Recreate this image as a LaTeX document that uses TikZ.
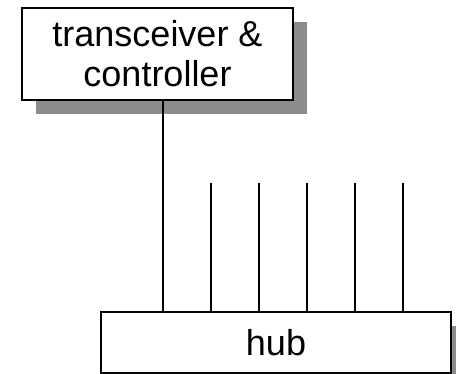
\documentclass[tikz,border=0pt]{standalone}
\usepackage{fontspec}
\setmainfont{Liberation Sans}
\usetikzlibrary{shadows}
\definecolor{shadowgray}{gray}{0.55}
\tikzset{
  box/.style={draw, line width=2pt, fill=white, align=center, inner sep=0pt,
    font=\fontsize{36}{40}\selectfont,
    general shadow={fill=shadowgray, shadow xshift=14pt, shadow yshift=-14pt}},
  wire/.style={line width=2pt},
}

\begin{document}
\begin{tikzpicture}[x=1pt,y=-1pt]
\useasboundingbox (0,0) rectangle (456,374);
\clip (0,0) rectangle (456,374);
\node[box, minimum width=271pt, minimum height=92pt] (ctrl) at (157.5,54) {transceiver \&\\controller};
\node[box, minimum width=350pt, minimum height=61pt] (hub) at (276,342.5) {hub};
% ports on top of the hub
\foreach \i in {0,...,5}
  \coordinate (port\i) at ([xshift=\i*48pt+63pt]hub.north west);
\draw[wire] (port0) -- (port0 |- ctrl.south);
\foreach \i in {1,...,5}{
  \coordinate (tip\i) at (port\i |- 0,183);
  \draw[wire] (port\i) -- (tip\i);
}
\end{tikzpicture}
\end{document}
